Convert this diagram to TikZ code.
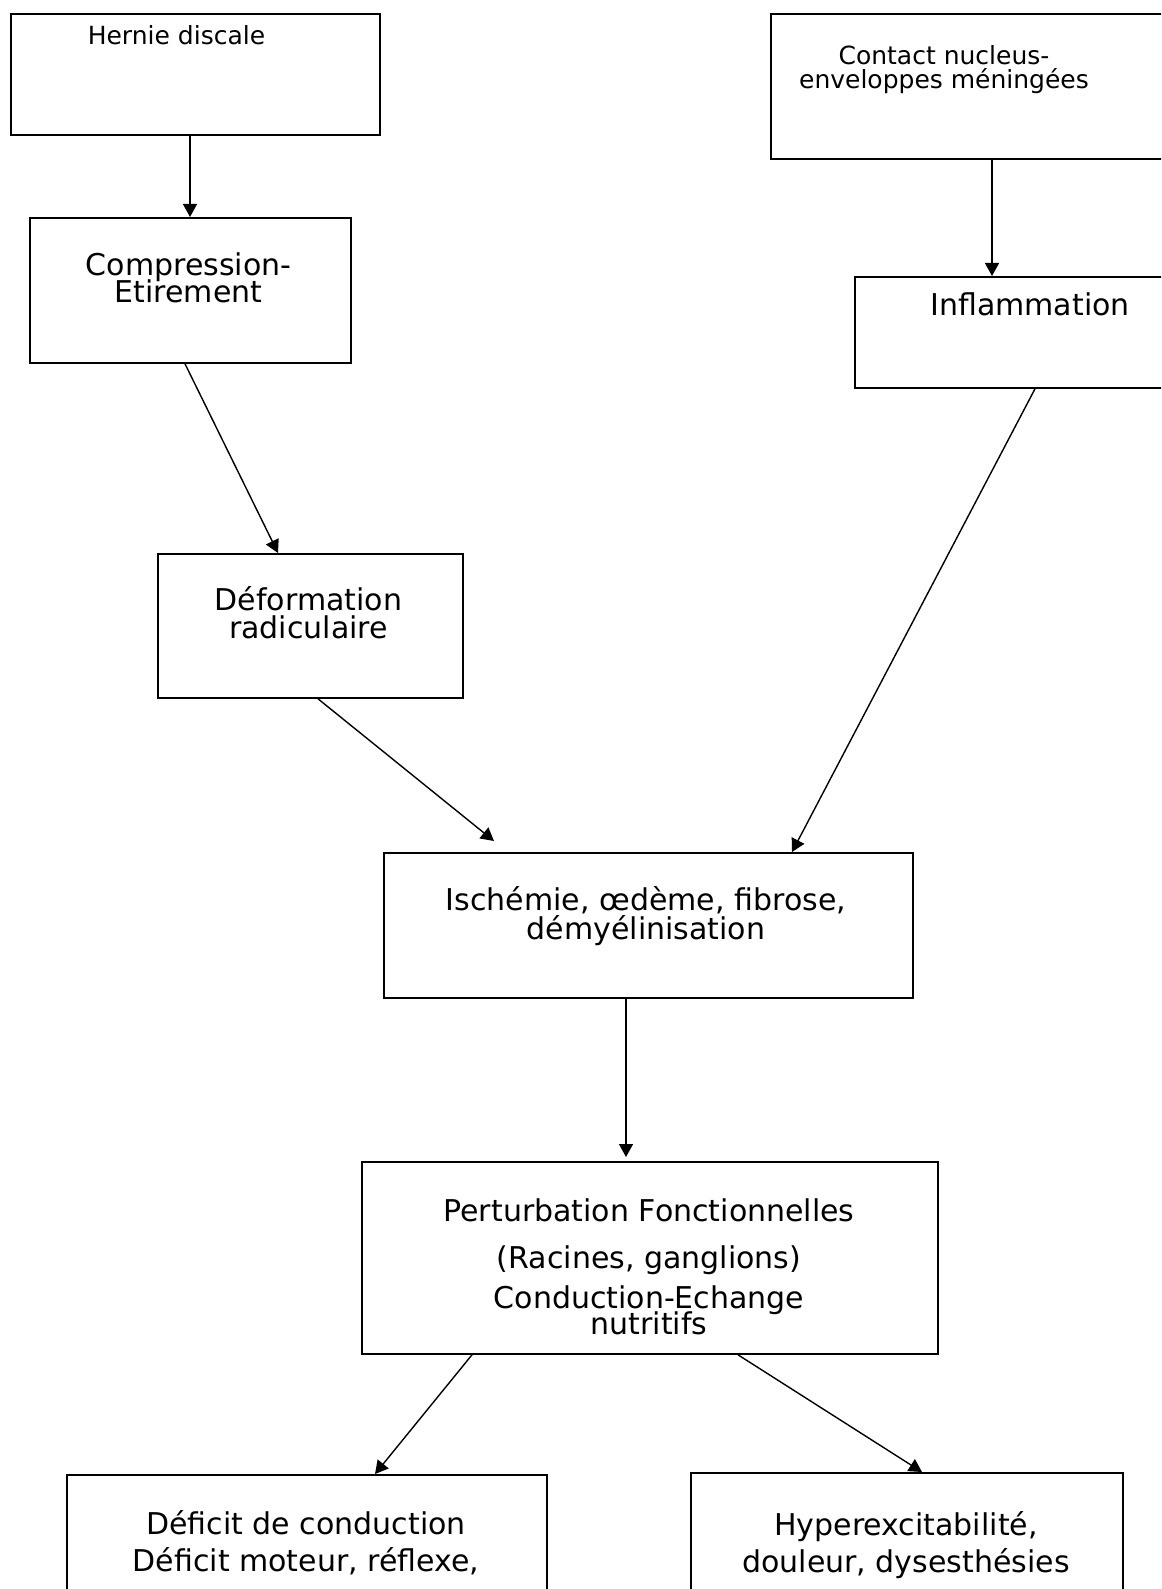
\documentclass[tikz,border=0pt]{standalone}
\usepackage{fontspec}
\setmainfont{DejaVu Sans}
\usetikzlibrary{arrows.meta,calc}

\begin{document}
\setlength{\lineskiplimit}{-100pt}
\begin{tikzpicture}[x=0.5pt,y=-0.5pt,line width=0.7pt,
    >={Triangle[length=6.5pt,width=7pt]},
    box/.style={draw,rectangle,line width=0.9pt,inner sep=0pt,anchor=north west},
    txt/.style={align=center,anchor=base,inner sep=0pt,font=\fontsize{15}{#1}\selectfont},
    txt/.default=13.5,
    stxt/.style={align=center,anchor=base,inner sep=0pt,font=\fontsize{12.5}{#1}\selectfont},
    stxt/.default=12]
    \useasboundingbox (0,0) rectangle (1161,1589);
    \clip (0,0) rectangle (1161,1589);
    % boxes
    \node[box,minimum width=184.5pt,minimum height=60.5pt] (hernie) at (10,13) {};
    \node[box,minimum width=202.5pt,minimum height=72.5pt] (contact) at (770,13) {};
    \node[box,minimum width=160.5pt,minimum height=72.5pt] (compression) at (29,217) {};
    \node[box,minimum width=160.5pt,minimum height=55.5pt] (inflam) at (854,276) {};
    \node[box,minimum width=152.5pt,minimum height=72pt] (deform) at (157,553) {};
    \node[box,minimum width=264.5pt,minimum height=72.5pt] (ischemie) at (383,852) {};
    \node[box,minimum width=288pt,minimum height=96pt] (perturb) at (361,1161) {};
    \node[box,minimum width=240pt,minimum height=73pt] (deficit) at (66,1474) {};
    \node[box,minimum width=216pt,minimum height=74pt] (hyper) at (690,1472) {};
    % texts (base = last line)
    \node[stxt] (herniet) at (176.5,45) {Hernie discale};
    \node[stxt] (contactt) at (944,89) {Contact nucleus-\\enveloppes méningées};
    \node[txt] (compressiont) at (188.5,302) {Compression-\\Etirement};
    \node[txt] (inflamt) at (1030,315) {Inflammation};
    \node[txt=14] (deformt) at (308.5,638) {Déformation\\radiculaire};
    \node[txt=14.5] (ischemiet) at (646,939) {Ischémie, œdème, fibrose,\\démyélinisation};
    \node[txt=13] (perturbt) at (649,1334) {Perturbation Fonctionnelles\\[10.5pt]
        (Racines, ganglions)\\[7pt]Conduction-Echange\\nutritifs};
    \node[txt=18.5] (deficitt) at (306,1571) {Déficit de conduction\\Déficit moteur, réflexe,};
    \node[txt=18.5] (hypert) at (906,1572) {Hyperexcitabilité,\\douleur, dysesthésies};
    % arrows
    \draw[->] ($(hernie.south west)+(180,0)$) -- ($(compression.north west)+(161,0)$);
    \draw[->] ($(contact.south west)+(222,0)$) -- ($(inflam.north west)+(138,0)$);
    \draw[->] ($(compression.south west)+(156,0)$) -- ($(deform.north west)+(121,0)$);
    \draw[->] ($(inflam.south west)+(181,0)$) -- ($(ischemie.north west)+(409,0)$);
    \draw[->] ($(deform.south west)+(161,0)$) -- ($(ischemie.north west)+(111,-11)$);
    \draw[->] ($(ischemie.south west)+(243,0)$) -- ($(perturb.north west)+(265,-4)$);
    \draw[->] ($(perturb.south west)+(111,0)$) -- ($(deficit.north west)+(309,0)$);
    \draw[->] ($(perturb.south west)+(377,0)$) -- ($(hyper.north west)+(232,0)$);
\end{tikzpicture}
\end{document}
